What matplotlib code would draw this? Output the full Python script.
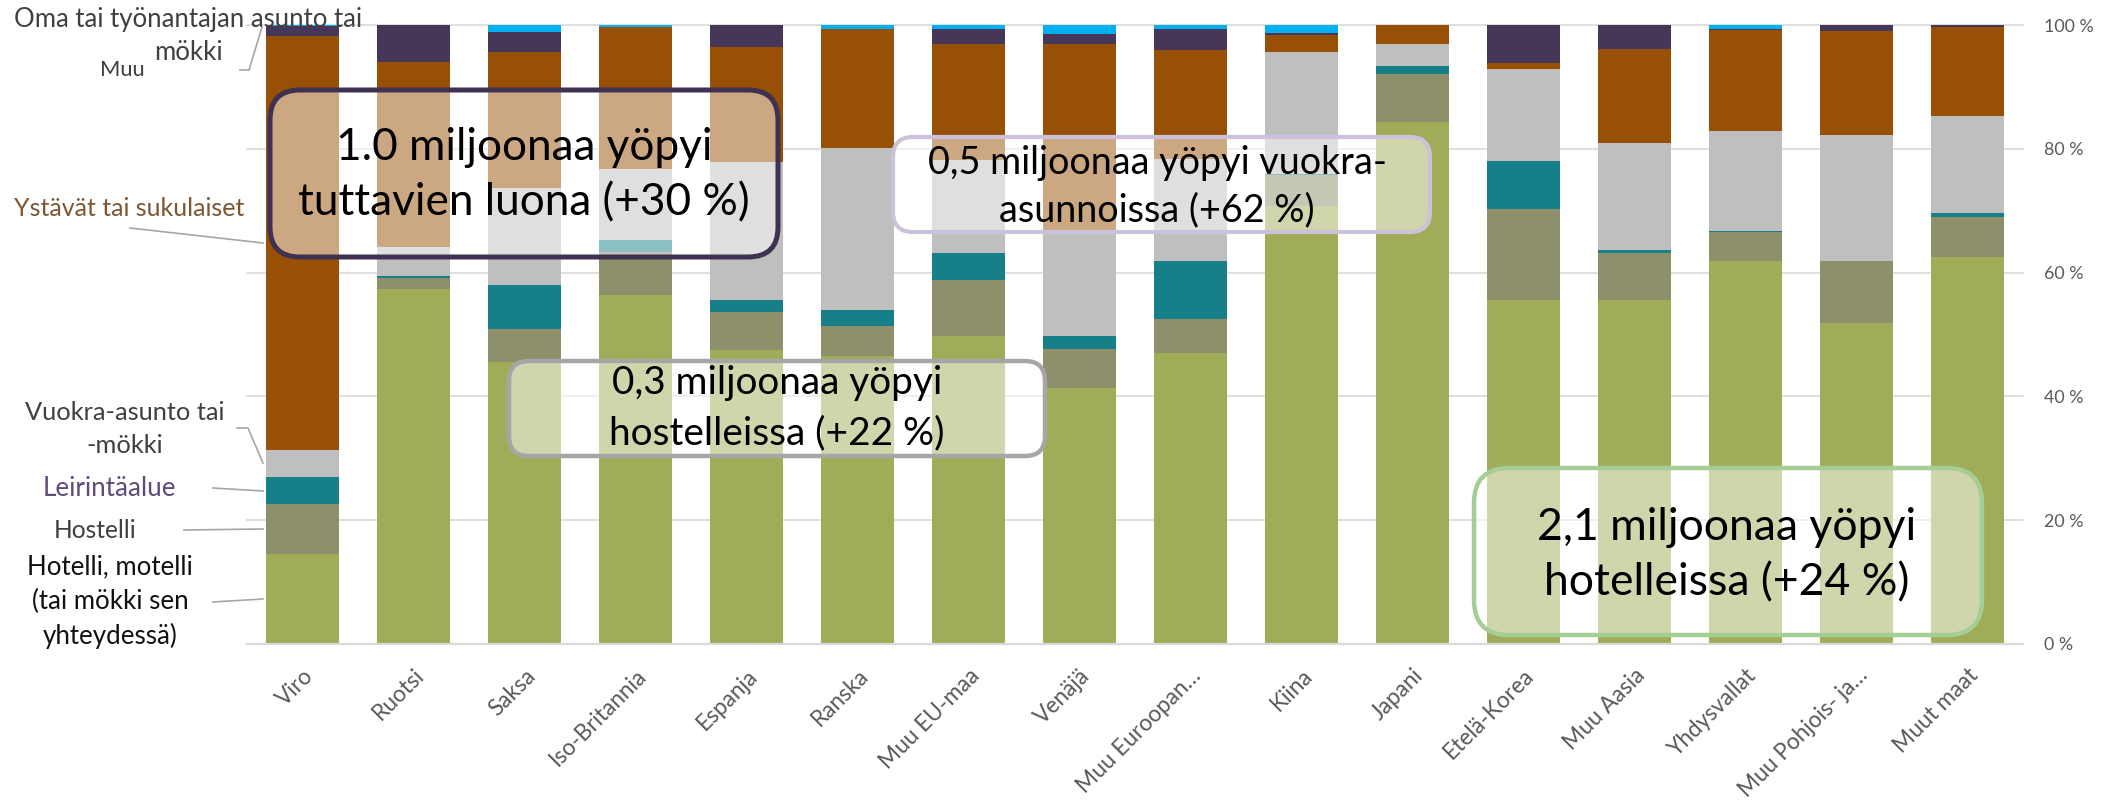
import numpy as np
import matplotlib
matplotlib.use('Agg')
import matplotlib.pyplot as plt
from matplotlib.patches import FancyBboxPatch
from matplotlib.lines import Line2D

plt.rcParams['font.family'] = ['Lato', 'DejaVu Sans']

# ---------------- data (share of nights, %) ----------------
countries = ['Viro', 'Ruotsi', 'Saksa', 'Iso-Britannia', 'Espanja', 'Ranska',
             'Muu EU-maa', 'Venäjä', 'Muu Euroopan…', 'Kiina', 'Japani',
             'Etelä-Korea', 'Muu Aasia', 'Yhdysvallat', 'Muu Pohjois- ja…',
             'Muut maat']

hotelli = [14.5, 57.3, 45.6, 56.4, 47.5, 46.6, 49.8, 41.3, 47.0, 70.8, 84.4, 55.6, 55.6, 61.9, 51.9, 62.5]
hostelli = [8.1, 1.8, 5.3, 7.0, 6.1, 4.7, 9.0, 6.4, 5.5, 5.0, 7.7, 14.7, 7.5, 4.7, 10.0, 6.5]
leirinta = [4.3, 0.3, 7.1, 1.8, 2.0, 2.7, 4.3, 2.1, 9.4, 0.2, 1.3, 7.7, 0.6, 0.1, 0.0, 0.7]
vuokra = [4.4, 4.7, 15.6, 11.6, 22.2, 26.1, 15.1, 16.9, 16.5, 19.6, 3.6, 14.9, 17.3, 16.2, 20.4, 15.6]
ystavat = [66.9, 30.0, 22.1, 22.8, 18.6, 19.2, 18.7, 30.3, 17.6, 2.8, 3.0, 0.9, 15.1, 16.3, 16.7, 14.3]
muu = [1.6, 5.9, 3.2, 0.1, 3.6, 0.1, 2.5, 1.6, 3.3, 0.3, 0.0, 6.2, 3.9, 0.2, 1.0, 0.4]
oma = [0.2, 0.0, 1.1, 0.3, 0.0, 0.6, 0.6, 1.4, 0.7, 1.3, 0.0, 0.0, 0.0, 0.6, 0.0, 0.0]

series = [hotelli, hostelli, leirinta, vuokra, ystavat, muu, oma]
colors = ['#a1ac58', '#8d906b', '#177f88', '#bfbfbf', '#984f06', '#463658', '#00b0f0']

# ---------------- figure ----------------
W, H = 2116, 806
fig = plt.figure(figsize=(W / 100, H / 100), dpi=100)
ax = fig.add_axes([247 / W, 1 - 644 / H, (2023 - 247) / W, (644 - 25) / H])

x = np.arange(len(countries))
bottom = np.zeros(len(countries))
for vals, col in zip(series, colors):
    ax.bar(x, vals, width=0.666, bottom=bottom, color=col, linewidth=0, zorder=2)
    bottom += np.array(vals)

ax.set_xlim(-0.5, len(countries) - 0.5)
ax.set_ylim(0, 100)
ax.set_yticks(range(0, 101, 20))
ax.set_yticklabels([f'{v} %' for v in range(0, 101, 20)])
ax.yaxis.tick_right()
ax.tick_params(axis='y', length=0, pad=15, labelcolor='#595959')
ax.set_xticks(x)
ax.set_xticklabels(countries, rotation=45, ha='right', va='top', rotation_mode='anchor')
ax.tick_params(axis='x', length=0, pad=15, labelcolor='#595959')
ax.grid(axis='y', color='#d9d9d9', linewidth=1.2, zorder=0)
for gl in ax.get_ygridlines():
    gl.set_clip_on(False)
ax.set_axisbelow(True)
for s in ax.spines.values():
    s.set_visible(False)
ax.spines['bottom'].set_visible(True)
ax.spines['bottom'].set_color('#d9d9d9')
ax.spines['bottom'].set_linewidth(1.6)


# ---------------- call-out boxes (pixel coords from top-left) ----------------
def add_box(x0, y0, x1, y1, edge, lw, r):
    p = FancyBboxPatch((x0 / 100, (H - y1) / 100), (x1 - x0) / 100, (y1 - y0) / 100,
                       boxstyle=f'round,pad=0,rounding_size={r}',
                       transform=fig.dpi_scale_trans, facecolor=(1, 1, 1, 0.5),
                       edgecolor=edge, linewidth=lw, zorder=3)
    fig.add_artist(p)


fit = []


def add_lines(lines, cx, y0, step, width, color):
    ts = [fig.text(cx / W, 1 - (y0 + i * step) / H, s, ha='center', va='center',
                   color=color, fontsize=20, zorder=5) for i, s in enumerate(lines)]
    fit.append((ts, width))


def leader(px, py):
    fig.add_artist(Line2D([p / 100 for p in px], [(H - p) / 100 for p in py],
                          transform=fig.dpi_scale_trans, color='#a6a6a6', linewidth=1.2))


add_box(270, 90, 778, 257, '#3f3151', 3.6, 0.3)
add_box(893, 137, 1430, 232, '#ccc1da', 3.0, 0.2)
add_box(509, 361, 1045, 456, '#a6a6a6', 3.2, 0.2)
add_box(1474, 468, 1982, 635, '#a3cf94', 3.2, 0.35)

add_lines(['1.0 miljoonaa yöpyi', 'tuttavien luona (+30 %)'], 524, 147, 56, 452, 'black')
add_lines(['0,5 miljoonaa yöpyi vuokra-', 'asunnoissa (+62 %)'], 1157, 163, 47, 460, 'black')
add_lines(['0,3 miljoonaa yöpyi', 'hostelleissa (+22 %)'], 777, 383, 50, 334, 'black')
add_lines(['2,1 miljoonaa yöpyi', 'hotelleissa (+24 %)'], 1727, 527, 56, 379, 'black')

# ---------------- series labels on the left ----------------
add_lines(['Oma tai työnantajan asunto tai', 'mökki'], 188, 20, 33, 349, '#404040')
add_lines(['Muu'], 122, 70, 0, 45, '#404040')
add_lines(['Ystävät tai sukulaiset'], 129, 208, 0, 232, '#7d5733')
add_lines(['Vuokra-asunto tai', '-mökki'], 125, 412, 33, 200, '#404040')
add_lines(['Leirintäalue'], 109, 488, 0, 134, '#604a7b')
add_lines(['Hostelli'], 95, 530, 0, 83, '#404040')
add_lines(['Hotelli, motelli', '(tai mökki sen', 'yhteydessä)'], 110, 567, 34.5, 166, '#111111')

leader([240, 249, 262], [70, 70, 27])
leader([130, 263], [228, 243])
leader([237, 248, 263], [428, 428, 463])
leader([213, 263], [488, 491])
leader([184, 263], [530, 529])
leader([213, 263], [602, 599])

# ---------------- fit text sizes to the measured widths ----------------
fig.canvas.draw()
r = fig.canvas.get_renderer()
for ts, width in fit:
    w = max(t.get_window_extent(r).width for t in ts)
    for t in ts:
        t.set_fontsize(t.get_fontsize() * width / w)

w = ax.get_xticklabels()[3].get_window_extent(r).width
ax.tick_params(axis='x', labelsize=10 * 104 / w)
w = ax.get_yticklabels()[-1].get_window_extent(r).width
ax.tick_params(axis='y', labelsize=10 * 50 / w)

fig.savefig('out.png', dpi=100)
